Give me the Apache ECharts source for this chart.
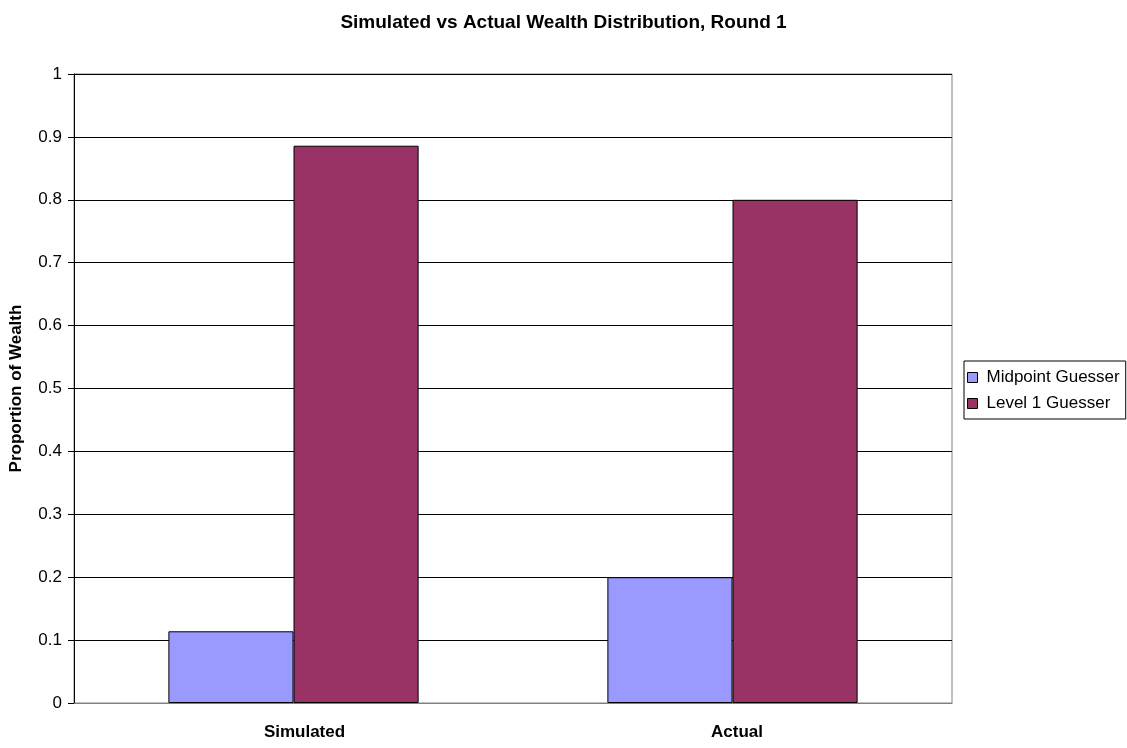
<!DOCTYPE html>
<html><head><meta charset="utf-8">
<script src="https://cdn.jsdelivr.net/npm/echarts@6/dist/echarts.min.js"></script>
<style>html,body{margin:0;padding:0;background:#fff}#c{width:1127px;height:748px}</style>
</head><body><div id="c"></div>
<script>
var categories = ['Simulated', 'Actual'];
var midpoint = [0.114, 0.2];
var level1 = [0.886, 0.8];
var seriesNames = ['Midpoint Guesser', 'Level 1 Guesser'];

var chart = echarts.init(document.getElementById('c'), null, {renderer: 'canvas'});
var font = 'Arial, "Liberation Sans", sans-serif';
var labelStyle = {fontFamily: font, fontSize: 17, fontWeight: 'bold', color: '#000'};
chart.setOption({
  animation: false,
  backgroundColor: '#ffffff',
  title: {
    text: 'Simulated vs Actual Wealth Distribution, Round 1',
    left: 'center', top: 8,
    textStyle: {fontFamily: font, fontSize: 19, fontWeight: 'bold', color: '#000'}
  },
  legend: {
    orient: 'vertical', left: 964, top: 361,
    itemWidth: 10, itemHeight: 10, itemGap: 9, icon: 'rect',
    padding: [8, 6, 7, 3],
    borderColor: '#000', borderWidth: 1,
    itemStyle: {borderColor: '#000', borderWidth: 1},
    textStyle: {fontFamily: font, fontSize: 17, color: '#000', padding: [0, 0, 0, 4]},
    data: seriesNames
  },
  grid: {left: 74, right: 175, top: 74, bottom: 45, show: true, borderColor: '#808080', borderWidth: 1},
  xAxis: {
    type: 'category', data: categories,
    axisLine: {lineStyle: {color: '#808080'}},
    axisTick: {show: false},
    axisLabel: {
      fontFamily: font, fontSize: 17, fontWeight: 'bold', color: '#000', margin: 21,
      formatter: function (v, i) { return '{l' + i + '|' + v + '}'; },
      rich: {
        l0: Object.assign({padding: [0, 0, 0, 22]}, labelStyle),
        l1: Object.assign({padding: [0, 0, 0, 9]}, labelStyle)
      }
    }
  },
  yAxis: {
    type: 'value', min: 0, max: 1, interval: 0.1,
    name: 'Proportion of Wealth', nameLocation: 'middle', nameGap: 49,
    nameTextStyle: {fontFamily: font, fontSize: 17, fontWeight: 'bold', color: '#000'},
    axisLine: {show: true, lineStyle: {color: '#000'}},
    axisTick: {show: true, length: 6, lineStyle: {color: '#000'}},
    axisLabel: {fontFamily: font, fontSize: 17, color: '#000', margin: 12,
      formatter: function (v) { return String(Math.round(v * 10) / 10); }},
    splitLine: {lineStyle: {color: '#000', width: 1}}
  },
  series: [
    {name: seriesNames[0], type: 'bar', data: midpoint, barGap: '0%', barCategoryGap: '43%',
     itemStyle: {color: '#9999FF', borderColor: '#000', borderWidth: 1}},
    {name: seriesNames[1], type: 'bar', data: level1, barGap: '0%', barCategoryGap: '43%',
     itemStyle: {color: '#993366', borderColor: '#000', borderWidth: 1}}
  ]
});
</script></body></html>
